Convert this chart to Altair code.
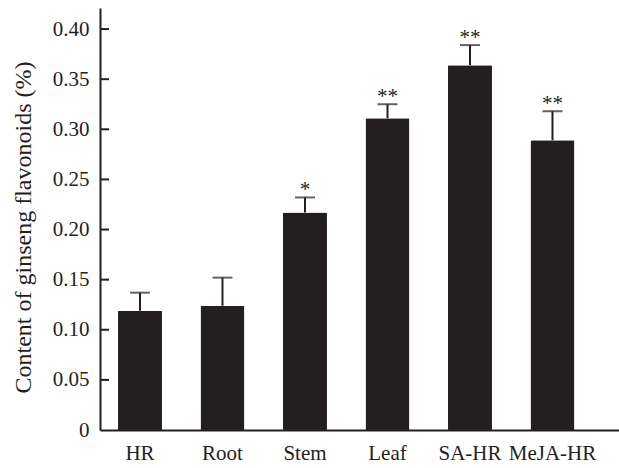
import altair as alt
import pandas as pd

categories = ["HR", "Root", "Stem", "Leaf", "SA-HR", "MeJA-HR"]
means = [0.119, 0.124, 0.217, 0.311, 0.364, 0.289]
errors = [0.018, 0.028, 0.015, 0.014, 0.020, 0.029]
signif = ["", "", "*", "**", "**", "**"]
tick_values = [0, 0.05, 0.10, 0.15, 0.20, 0.25, 0.30, 0.35, 0.40]

df = pd.DataFrame({
    "cat": categories,
    "mean": means,
    "upper": [m + e for m, e in zip(means, errors)],
    "sig": signif,
})
ticks_df = pd.DataFrame({"v": tick_values[1:]})

FONT = "Liberation Serif"
INK = "#231f20"

xscale = alt.Scale(domain=categories, paddingInner=0.467, paddingOuter=0.379, align=0.288)
yscale = alt.Scale(domain=[0, 0.421], nice=False, zero=True)

x = alt.X("cat:N", scale=xscale, sort=categories,
          axis=alt.Axis(title=None, ticks=False, labelAngle=0, labelPadding=12,
                        labelFontSize=21, labelFont=FONT, labelColor=INK,
                        domainColor=INK, domainWidth=2))

bars = alt.Chart(df).mark_bar(color=INK, cornerRadius=1).encode(
    x=x,
    y=alt.Y("mean:Q", scale=yscale,
            axis=alt.Axis(title="Content of ginseng flavonoids (%)", values=tick_values,
                          ticks=False, grid=False,
                          labelExpr="datum.value == 0 ? '0' : format(datum.value, '.2f')",
                          labelFontSize=21, labelFont=FONT, labelColor=INK, labelPadding=11,
                          titleFontSize=24, titleFont=FONT, titleFontWeight="normal",
                          titleColor=INK, titleX=-77, titleY=219, titleAngle=-90,
                          titleBaseline="middle", titleAlign="center",
                          domainColor=INK, domainWidth=2)),
)

err = alt.Chart(df).mark_rule(color=INK, strokeWidth=2).encode(
    x=alt.X("cat:N", scale=xscale, sort=categories),
    y=alt.Y("mean:Q", scale=yscale),
    y2="upper:Q",
)

caps = alt.Chart(df).mark_tick(color=INK, size=20, thickness=2).encode(
    x=alt.X("cat:N", scale=xscale, sort=categories),
    y=alt.Y("upper:Q", scale=yscale),
)

stars = alt.Chart(df).mark_text(font=FONT, fontSize=21, color=INK, baseline="alphabetic",
                                align="center", dy=-1).encode(
    x=alt.X("cat:N", scale=xscale, sort=categories),
    y=alt.Y("upper:Q", scale=yscale),
    text="sig:N",
)

inticks = alt.Chart(ticks_df).mark_rule(color=INK, strokeWidth=2).encode(
    y=alt.Y("v:Q", scale=yscale),
    x=alt.value(0),
    x2=alt.value(9),
)

chart = alt.layer(bars, err, caps, stars, inticks).properties(
    width=519,
    height=422,
    autosize=alt.AutoSizeParams(type="none"),
    padding={"left": 100, "top": 8, "right": 0, "bottom": 38},
    background="white",
).configure_view(stroke=None)

chart.save("out.html", embed_options={"renderer": "svg", "actions": False})
